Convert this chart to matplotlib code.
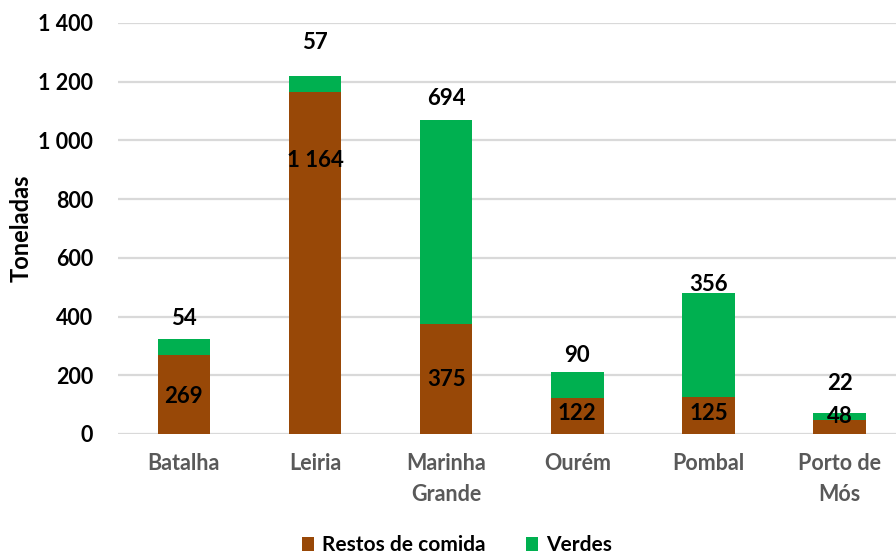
import matplotlib
matplotlib.use("Agg")
import matplotlib.pyplot as plt
import numpy as np
from matplotlib.ticker import FuncFormatter

plt.rcParams['font.family'] = ['Lato', 'DejaVu Sans']
plt.rcParams['font.weight'] = 'bold'

categories = ['Batalha', 'Leiria', 'Marinha\nGrande', 'Ourém', 'Pombal', 'Porto de\nMós']
restos = [269, 1164, 375, 122, 125, 48]
verdes = [54, 57, 694, 90, 356, 22]
yticks = [0, 200, 400, 600, 800, 1000, 1200, 1400]

# label positions picked to follow the original layout
restos_label_y = [129, 932, 186, 71, 71, 61]
verdes_label_off = [70, 111, 73, 56, 28, 103]

brown = '#984807'
green = '#00B050'

fig = plt.figure(figsize=(8.96, 5.6), dpi=100)
ax = fig.add_axes([0.132, 0.225, 0.868, 0.734])

x = np.arange(len(categories))
width = 0.40
b1 = ax.bar(x, restos, width, color=brown, label='Restos de comida', zorder=3)
b2 = ax.bar(x, verdes, width, bottom=restos, color=green, label='Verdes', zorder=3)

def fmt(v):
    return '{:,}'.format(int(v)).replace(',', ' ')

for i in range(len(categories)):
    ax.text(x[i], restos_label_y[i], fmt(restos[i]), ha='center', va='center',
            fontsize=16, fontweight='bold', color='black', zorder=4)
    ax.text(x[i], restos[i] + verdes[i] + verdes_label_off[i], fmt(verdes[i]),
            ha='center', va='center', fontsize=16, fontweight='bold', color='black', zorder=4)

ax.set_ylim(0, 1400)
ax.set_xlim(-0.5, 5.43)
ax.set_yticks(yticks)
ax.yaxis.set_major_formatter(FuncFormatter(lambda v, p: fmt(v)))
ax.set_xticks(x)
ax.set_xticklabels(categories, color='#595959', fontsize=15.5, fontweight='bold',
                   linespacing=1.55)
ax.tick_params(axis='y', labelsize=15.5, length=0, pad=18)
ax.tick_params(axis='x', length=0, pad=14)
ax.grid(axis='y', color='#D9D9D9', linewidth=1.6, zorder=0)
ax.set_axisbelow(True)
for s in ax.spines.values():
    s.set_visible(False)
ax.set_ylabel('Toneladas', fontsize=17, fontweight='bold', labelpad=4)

fig.legend(handles=[b1, b2], loc='lower center', bbox_to_anchor=(0.51, -0.025), ncol=2,
           frameon=False, fontsize=15, handlelength=0.6, handleheight=0.6,
           columnspacing=1.9, handletextpad=0.4)

fig.savefig('out.png', dpi=100)
